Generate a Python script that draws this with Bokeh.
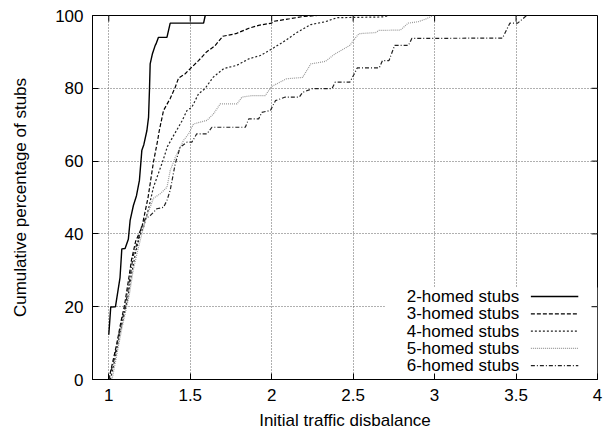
from bokeh.plotting import figure
from bokeh.models import Range1d, FixedTicker, BoxAnnotation, Label
from bokeh.embed import file_html
from bokeh.resources import INLINE

# ---------------- data ----------------
labels = ["2-homed stubs", "3-homed stubs", "4-homed stubs", "5-homed stubs", "6-homed stubs"]

x2 = [1.0, 1.012, 1.041, 1.069, 1.08, 1.10, 1.12, 1.131, 1.151, 1.17, 1.188, 1.203, 1.215,
      1.234, 1.244, 1.25, 1.254, 1.268, 1.285, 1.29, 1.305, 1.357, 1.377, 1.582, 1.592]
y2 = [12.3, 19.9, 20.0, 28.0, 35.9, 36.0, 38.5, 43.7, 47.8, 50.5, 54.7, 63.0, 64.5,
      68.4, 72.0, 80.0, 86.7, 89.5, 91.8, 92.2, 94.0, 94.0, 97.9, 97.9, 100.0]

x3 = [1.0, 1.02, 1.05, 1.075, 1.095, 1.12, 1.14, 1.165, 1.19, 1.203, 1.241, 1.274, 1.30,
      1.31, 1.336, 1.377, 1.408, 1.428, 1.469, 1.50, 1.551, 1.60, 1.65, 1.70, 1.78, 1.86,
      1.92, 2.0, 2.012, 2.11, 2.19, 2.28]
y3 = [0.0, 4.0, 10.0, 16.0, 20.0, 27.0, 33.0, 38.0, 40.5, 41.8, 50.0, 59.7, 65.7,
      68.4, 73.9, 77.2, 80.3, 82.8, 84.0, 85.4, 87.6, 90.0, 91.6, 94.3, 95.0, 96.5,
      97.3, 97.9, 98.4, 99.1, 99.7, 100.0]

x4 = [1.01, 1.04, 1.07, 1.10, 1.115, 1.14, 1.165, 1.19, 1.213, 1.244, 1.274, 1.33, 1.36,
      1.40, 1.449, 1.48, 1.51, 1.551, 1.59, 1.64, 1.705, 1.785, 1.86, 1.93, 2.0, 2.084,
      2.15, 2.24, 2.33, 2.40, 2.68, 2.72]
y4 = [0.0, 6.0, 13.0, 19.0, 22.0, 29.0, 35.0, 39.5, 41.8, 46.9, 52.8, 59.8, 64.0,
      67.2, 71.0, 73.9, 74.8, 78.5, 79.9, 83.0, 85.4, 86.3, 88.1, 89.0, 90.8, 93.1,
      95.2, 97.5, 98.3, 99.4, 99.6, 100.0]

x5 = [1.02, 1.05, 1.08, 1.11, 1.125, 1.15, 1.175, 1.20, 1.223, 1.254, 1.274, 1.315, 1.357,
      1.377, 1.408, 1.459, 1.49, 1.52, 1.603, 1.643, 1.684, 1.787, 1.818, 1.88, 1.96,
      2.0, 2.09, 2.19, 2.24, 2.33, 2.39, 2.48, 2.51, 2.535, 2.638, 2.658, 2.79, 2.838,
      2.90, 2.95, 2.99]
y5 = [0.0, 7.0, 14.0, 20.0, 23.0, 30.0, 35.0, 39.5, 43.7, 47.3, 49.8, 51.0, 52.8,
      57.4, 61.0, 65.7, 67.5, 70.2, 71.2, 73.0, 75.7, 75.7, 77.6, 78.0, 78.0,
      80.5, 82.6, 83.0, 86.7, 87.4, 89.5, 91.8, 93.6, 95.0, 95.3, 95.9, 96.0, 97.9,
      98.3, 99.1, 100.0]

x6 = [1.0, 1.03, 1.06, 1.09, 1.105, 1.13, 1.15, 1.182, 1.203, 1.223, 1.254, 1.295, 1.336,
      1.357, 1.377, 1.408, 1.438, 1.48, 1.51, 1.54, 1.603, 1.633, 1.838, 1.859, 1.92,
      1.94, 1.992, 2.023, 2.084, 2.17, 2.19, 2.25, 2.37, 2.39, 2.48, 2.51, 2.525, 2.66,
      2.68, 2.72, 2.755, 2.84, 2.86, 3.417, 3.462, 3.51, 3.565]
y6 = [0.0, 5.0, 12.0, 18.0, 21.0, 28.0, 34.0, 38.7, 42.3, 44.1, 45.0, 46.9, 47.3,
      49.2, 52.0, 59.3, 63.8, 65.2, 65.2, 67.5, 67.5, 69.3, 69.3, 71.6, 71.6,
      73.4, 73.9, 76.6, 77.6, 77.6, 78.9, 79.9, 79.9, 81.7, 81.7, 84.2, 85.6, 85.6,
      87.6, 87.6, 91.8, 91.8, 93.7, 93.8, 97.9, 97.9, 100.0]

xticks = [1, 1.5, 2, 2.5, 3, 3.5, 4]
xtick_labels = ["1", "1.5", "2", "2.5", "3", "3.5", "4"]
yticks = [0, 20, 40, 60, 80, 100]
ytick_labels = ["0", "20", "40", "60", "80", "100"]

# ---------------- styling ----------------
FONT = "Liberation Sans"
FS = "17px"
X0, X1, Y0, Y1 = 0.9, 4.0, 0.0, 100.0
FRAME_W, FRAME_H = 505, 364
TICK_PX = 6

p = figure(width=608, height=432, x_range=Range1d(X0, X1), y_range=Range1d(Y0, Y1),
           output_backend="svg", toolbar_location=None,
           min_border_left=92, min_border_right=11, min_border_top=15, min_border_bottom=53)
p.background_fill_color = "white"
p.border_fill_color = "white"
p.outline_line_color = "black"
p.outline_line_width = 1
p.outline_line_alpha = 1.0

xa = p.xaxis[0]
ya = p.yaxis[0]
xa.ticker = FixedTicker(ticks=xticks)
ya.ticker = FixedTicker(ticks=yticks)
xa.major_label_overrides = {t: s for t, s in zip(xticks, xtick_labels)}
ya.major_label_overrides = {t: s for t, s in zip(yticks, ytick_labels)}
for ax in (xa, ya):
    ax.axis_line_color = "black"
    ax.axis_line_width = 1
    ax.major_tick_in = TICK_PX
    ax.major_tick_out = 0
    ax.major_tick_line_color = "black"
    ax.minor_tick_line_color = None
    ax.major_label_text_font = FONT
    ax.major_label_text_font_size = FS
    ax.major_label_text_color = "black"
    ax.major_label_standoff = 9
    ax.axis_label_text_font = FONT
    ax.axis_label_text_font_size = FS
    ax.axis_label_text_font_style = "normal"
    ax.axis_label_text_color = "black"
xa.axis_label = "Initial traffic disbalance"
ya.axis_label = "Cumulative percentage of stubs"
xa.axis_label_standoff = 7
ya.axis_label_standoff = 22

p.xgrid.ticker = FixedTicker(ticks=xticks)
p.ygrid.ticker = FixedTicker(ticks=yticks)
for g in (p.xgrid, p.ygrid):
    g.grid_line_color = "#606060"
    g.grid_line_dash = "1 2"
    g.grid_line_width = 1

# inward tick marks on the top and right borders (mirror of the bottom/left ticks)
dy = TICK_PX * (Y1 - Y0) / FRAME_H
dx = TICK_PX * (X1 - X0) / FRAME_W
p.segment(x0=xticks, x1=xticks, y0=[Y1] * len(xticks), y1=[Y1 - dy] * len(xticks),
          line_color="black", line_width=1)
p.segment(x0=[X1] * len(yticks), x1=[X1 - dx] * len(yticks), y0=yticks, y1=yticks,
          line_color="black", line_width=1)

# white backing of the key (hides grid underneath)
key_box = BoxAnnotation(left=2.695, right=X1, bottom=Y0, top=25.3,
                        fill_color="white", fill_alpha=1.0, line_color=None, level="underlay")
p.add_layout(key_box)

series = [(x2, y2), (x3, y3), (x4, y4), (x5, y5), (x6, y6)]
colors = ["black", "black", "#222222", "#9a9a9a", "#222222"]
dashes = ["solid", "4 2", "2 2", "1 1", "4 2 1 2"]
widths = [1.4, 1.2, 1.2, 1.2, 1.2]

for (xs, ys), c, d, w in zip(series, colors, dashes, widths):
    p.line(xs, ys, line_color=c, line_dash=d, line_width=w)

# key (gnuplot style: text right-aligned, sample to its right)
key_text_x = 3.519
key_x0, key_x1 = 3.591, 3.882
key_y_top = 22.8
key_step = 4.75
for i, lab in enumerate(labels):
    yy = key_y_top - i * key_step
    p.add_layout(Label(x=key_text_x, y=yy, text=lab, text_align="right",
                       text_baseline="middle", text_font=FONT, text_font_size=FS,
                       text_color="black"))
    p.line([key_x0, key_x1], [yy, yy], line_color=colors[i], line_dash=dashes[i],
           line_width=widths[i])

open("out.html", "w").write(file_html(p, INLINE))
